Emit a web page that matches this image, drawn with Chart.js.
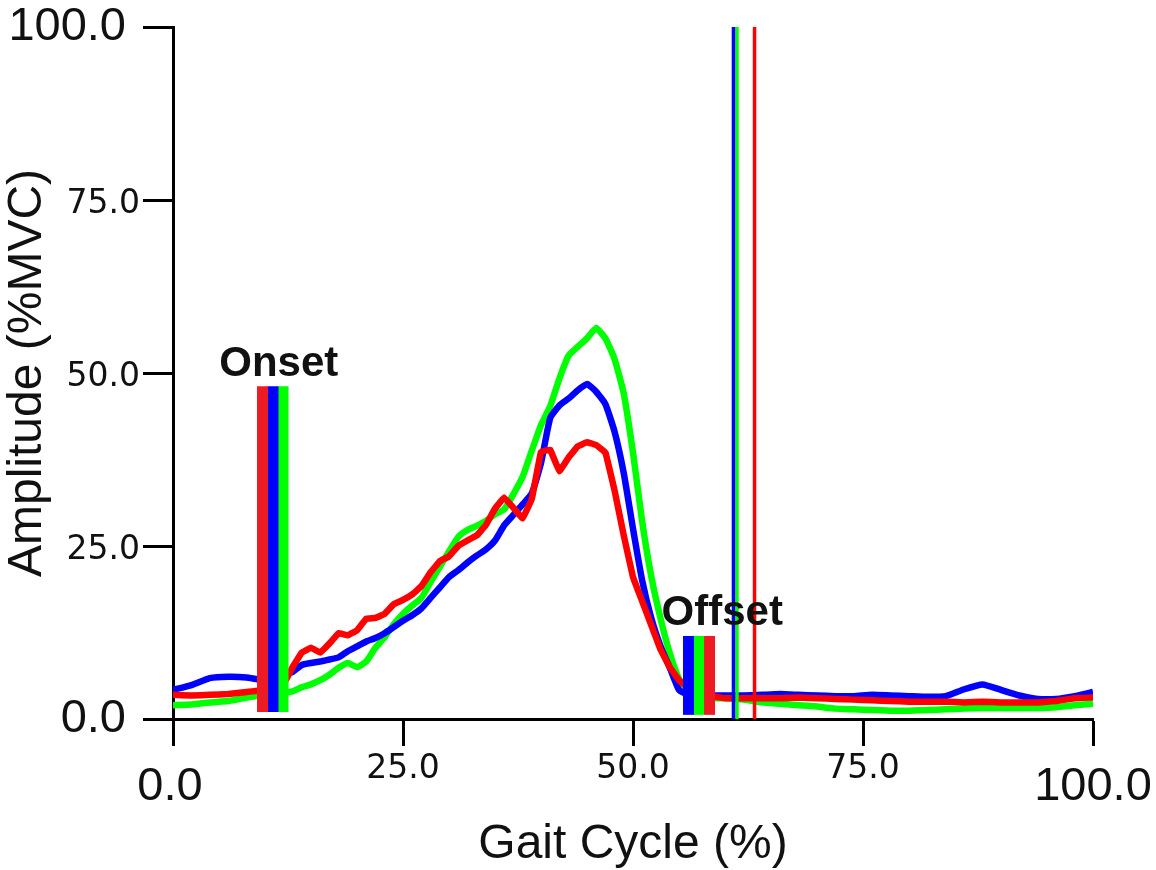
<!DOCTYPE html>
<html>
<head>
<meta charset="utf-8">
<title>EMG onset / offset</title>
<script src="https://cdn.jsdelivr.net/npm/chart.js@4.4.1/dist/chart.umd.min.js"></script>
<style>
  html, body { margin: 0; padding: 0; background: #fff; }
  #wrap { width: 1156px; height: 870px; }
</style>
</head>
<body>
<div id="wrap"><canvas id="emgChart" width="1156" height="870"></canvas></div>
<script>
// gait cycle samples (%)
const cyclePct = [0, 2, 4, 6, 8, 10,
  12, 13, 14, 15, 16, 17, 18, 19, 20, 21, 22, 23, 24, 25, 26, 27, 28, 29, 30, 31, 32, 33, 34, 35,
  36, 37, 38, 39, 40, 41, 42, 43, 44, 45, 46, 47, 48, 49, 50, 51, 52, 53, 54, 55, 56, 57, 58,
  60, 62, 64, 66, 68, 70, 72, 74, 76, 78, 80, 82, 84, 86, 88, 90, 92, 94, 96, 98, 100];

// amplitude (%MVC) per trial
const redAmp = [3.5, 3.4, 3.5, 3.6, 3.9, 4.2,
  5.0, 7.5, 9.6, 10.3, 9.6, 10.9, 12.4, 12.1, 12.8, 14.5, 14.6, 15.2, 16.6, 17.2, 18.0, 19.2, 21.2, 22.8, 23.5, 25.0, 25.8, 26.5, 28.0, 30.4,
  32.0, 30.5, 29.0, 31.8, 38.6, 38.9, 35.8, 37.8, 39.4, 40.0, 39.6, 38.5, 33.0, 26.5, 20.5, 17.0, 13.5, 10.0, 7.5, 5.6, 4.5, 3.8, 3.4,
  3.0, 3.0, 3.0, 3.0, 3.1, 3.0, 2.9, 2.8, 2.7, 2.6, 2.5, 2.5, 2.5, 2.4, 2.5, 2.4, 2.4, 2.4, 2.6, 3.0, 3.1];
const blueAmp = [4.2, 4.9, 5.9, 6.1, 6.0, 5.6,
  6.3, 6.8, 7.8, 8.1, 8.3, 8.6, 8.9, 9.8, 10.5, 11.2, 11.7, 12.4, 13.3, 14.2, 15.0, 16.0, 17.5, 19.0, 20.5, 21.5, 22.6, 23.6, 24.5, 25.8,
  28.0, 29.5, 31.0, 32.6, 37.0, 43.5, 45.3, 46.3, 47.5, 48.4, 47.3, 45.5, 41.5, 35.5, 27.5, 20.0, 14.5, 10.5, 7.4, 4.2, 3.5, 3.4, 3.4,
  3.4, 3.4, 3.5, 3.6, 3.5, 3.4, 3.3, 3.3, 3.5, 3.4, 3.3, 3.2, 3.3, 4.3, 5.0, 4.2, 3.4, 2.9, 2.9, 3.3, 3.9];
const greenAmp = [2.0, 2.1, 2.4, 2.6, 3.1, 3.5,
  3.8, 4.0, 4.6, 5.0, 5.6, 6.4, 7.4, 8.1, 7.5, 8.3, 10.3, 11.8, 13.7, 15.2, 16.4, 17.5, 19.8, 22.0, 24.2, 26.3, 27.3, 27.9, 28.6, 29.6,
  30.3, 32.5, 35.0, 38.8, 42.5, 45.2, 49.2, 52.5, 53.8, 55.0, 56.5, 55.0, 52.0, 47.0, 38.5, 28.5, 20.5, 14.5, 9.5, 5.8, 3.8, 3.2, 3.0,
  3.0, 2.8, 2.4, 2.2, 2.0, 1.8, 1.5, 1.4, 1.3, 1.2, 1.2, 1.3, 1.4, 1.5, 1.6, 1.6, 1.6, 1.6, 1.7, 2.0, 2.2];

// event markers, order: red, blue, green
const onsetPct = [9.73, 10.87, 11.96];
const offsetPct = [58.32, 56.03, 57.17];
const cutoffPct = [63.21, 60.92, 61.30];
const onsetSpan = [1.0, 48.1];
const offsetSpan = [0.6, 12.0];
const cutoffSpan = [0, 100];

const xTicks = [0, 25, 50, 75, 100];
const yTicks = [0, 25, 50, 75, 100];

const lineColors = ['#ff0000', '#0000ff', '#00ff00'];
const barColors = ['#ed1c24', '#0000ff', '#00ff00'];

function series(amp) {
    return cyclePct.map((p, i) => ({ x: p, y: amp[i] }));
}

function marker(pct, span, color, width) {
    return {
        data: [{ x: pct, y: span[0] }, { x: pct, y: span[1] }],
        borderColor: color,
        borderWidth: width,
        borderCapStyle: 'butt',
        pointRadius: 0,
        tension: 0
    };
}

function isEnd(v) {
    return v === 0 || v === 100;
}

// tick labels: the end values are printed larger
const tickLabels = {
    id: 'tickLabels',
    afterDraw(chart) {
        const { ctx, scales: { x, y } } = chart;
        ctx.save();
        ctx.fillStyle = '#111';
        ctx.textBaseline = 'middle';
        ctx.textAlign = 'right';
        yTicks.forEach(v => {
            const big = isEnd(v);
            ctx.font = big ? '47px "Liberation Sans", Arial, sans-serif' : '33px "DejaVu Sans", sans-serif';
            ctx.fillText(v.toFixed(1), x.left - (big ? 47 : 33), y.getPixelForValue(v) + (big ? 0 : 4.5));
        });
        ctx.textAlign = 'center';
        xTicks.forEach(v => {
            const big = isEnd(v);
            ctx.font = big ? '47px "Liberation Sans", Arial, sans-serif' : '33px "DejaVu Sans", sans-serif';
            ctx.fillText(v.toFixed(1), x.getPixelForValue(v) - (v === 0 ? 3 : 0), y.bottom + (big ? 68.5 : 50));
        });
        ctx.restore();
    }
};

// "Onset" / "Offset" captions above the bars
const eventCaptions = {
    id: 'eventCaptions',
    afterDatasetsDraw(chart) {
        const { ctx, scales: { x, y } } = chart;
        ctx.save();
        ctx.fillStyle = '#111';
        ctx.font = 'bold 42px "Liberation Sans", Arial, sans-serif';
        ctx.textAlign = 'center';
        ctx.textBaseline = 'alphabetic';
        ctx.fillText('Onset', x.getPixelForValue(11.5), y.getPixelForValue(49.6));
        ctx.fillText('Offset', x.getPixelForValue(59.7), y.getPixelForValue(13.6));
        ctx.restore();
    }
};

const datasets = [];
// markers first so they sit on top of the curves
for (let i = 0; i < 3; i++) {
    datasets.push(marker(onsetPct[i], onsetSpan, barColors[i], 11));
    datasets.push(marker(offsetPct[i], offsetSpan, barColors[i], 11));
    datasets.push(marker(cutoffPct[i], cutoffSpan, lineColors[i], 3.5));
}
[redAmp, blueAmp, greenAmp].forEach((amp, i) => {
    datasets.push({
        data: series(amp),
        borderColor: lineColors[i],
        borderWidth: 6.5,
        pointRadius: 0,
        tension: i === 0 ? 0.05 : 0.15,
        borderJoinStyle: 'round'
    });
});

const axisGrid = {
    drawOnChartArea: false,
    drawTicks: true,
    tickWidth: 3,
    tickColor: '#000'
};

new Chart(document.getElementById('emgChart').getContext('2d'), {
    type: 'line',
    data: { datasets: datasets },
    options: {
        responsive: false,
        animation: false,
        layout: { padding: { top: 27, right: 63, left: 0, bottom: 0 } },
        scales: {
            x: {
                type: 'linear',
                min: 0,
                max: 100,
                afterBuildTicks: s => { s.ticks = xTicks.map(v => ({ value: v })); },
                afterFit: s => { s.height = 151; },
                ticks: { display: false },
                grid: Object.assign({ tickLength: 27 }, axisGrid),
                border: { display: true, color: '#000', width: 3 },
                title: {
                    display: true,
                    text: 'Gait Cycle (%)',
                    color: '#111',
                    font: { family: '"Liberation Sans", Arial, sans-serif', size: 48, lineHeight: 1 },
                    padding: { top: 0, bottom: 1 }
                }
            },
            y: {
                min: 0,
                max: 100,
                afterBuildTicks: s => { s.ticks = yTicks.map(v => ({ value: v })); },
                afterFit: s => { s.width = 173; },
                ticks: { display: false },
                grid: Object.assign({ tickLength: 30 }, axisGrid),
                border: { display: true, color: '#000', width: 3 },
                title: {
                    display: true,
                    text: 'Amplitude (%MVC)',
                    color: '#111',
                    font: { family: '"Liberation Sans", Arial, sans-serif', size: 48, lineHeight: 1 },
                    padding: { top: 4, bottom: 0 }
                }
            }
        },
        plugins: {
            legend: { display: false },
            tooltip: { enabled: false }
        }
    },
    plugins: [tickLabels, eventCaptions]
});
</script>
</body>
</html>
